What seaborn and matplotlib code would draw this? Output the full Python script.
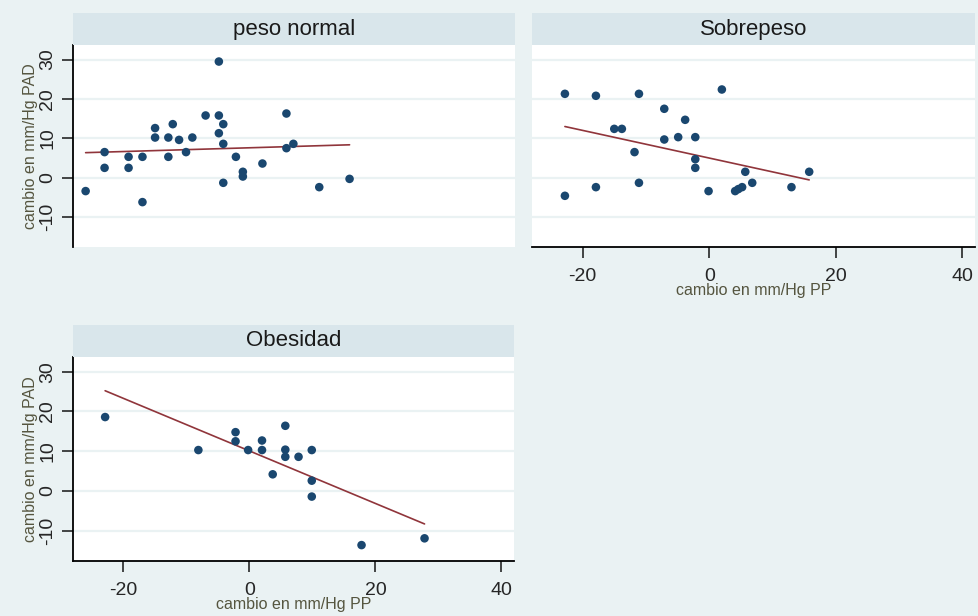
import numpy as np
import matplotlib.pyplot as plt
import pandas as pd
import seaborn as sns

# data
normal_pp = [-26.0, -23.0, -23.0, -19.2, -19.2, -17.0, -17.0, -15.0, -15.0, -12.9, -12.9,
             -12.2, -11.2, -10.1, -9.1, -7.0, -4.9, -4.9, -4.9, -4.2, -4.2, -4.2, -2.2,
             -1.1, -1.1, 2.0, 5.8, 5.8, 6.9, 11.0, 15.8]
normal_pad = [-3.4, 6.5, 2.5, 5.3, 2.5, 5.3, -6.2, 12.6, 10.2, 10.2, 5.3,
              13.6, 9.6, 6.5, 10.2, 15.8, 29.5, 15.8, 11.3, 13.6, 8.6, -1.3, 5.3,
              1.5, 0.3, 3.6, 16.3, 7.5, 8.6, -2.4, -0.3]

sobre_pp = [-22.8, -22.8, -17.9, -17.9, -15.0, -13.8, -11.8, -11.1, -11.1, -7.1, -7.1,
            -4.9, -3.8, -2.2, -2.2, -2.2, -0.1, 2.0, 4.1, 4.6, 5.2, 5.7, 6.8, 13.0, 15.8]
sobre_pad = [21.3, -4.6, 20.8, -2.4, 12.4, 12.4, 6.5, 21.3, -1.3, 17.5, 9.7,
             10.3, 14.7, 10.3, 4.7, 2.5, -3.4, 22.4, -3.4, -2.9, -2.4, 1.5, -1.3, -2.4, 1.5]

obes_pp = [-22.9, -8.1, -2.2, -2.2, -0.2, 2.0, 2.0, 3.7, 5.7, 5.7, 5.7, 7.8,
           9.9, 9.9, 9.9, 17.8, 27.8]
obes_pad = [18.6, 10.3, 14.8, 12.5, 10.3, 12.7, 10.3, 4.2, 16.4, 10.4, 8.6, 8.6,
            10.3, 2.6, -1.4, -13.6, -11.9]

groups = ['peso normal', 'Sobrepeso', 'Obesidad']
x_ticks = [-20, 0, 20, 40]
y_ticks = [-10, 0, 10, 20, 30]

df = pd.concat([
    pd.DataFrame({'pp': normal_pp, 'pad': normal_pad, 'grupo': groups[0]}),
    pd.DataFrame({'pp': sobre_pp, 'pad': sobre_pad, 'grupo': groups[1]}),
    pd.DataFrame({'pp': obes_pp, 'pad': obes_pad, 'grupo': groups[2]}),
])

bg = '#EAF2F3'
head = '#D9E6EB'
navy = '#1a476f'
maroon = '#90353b'
lab_col = '#55553f'

sns.set_style('white')
plt.rcParams['font.family'] = ['Liberation Sans', 'DejaVu Sans']
plt.rcParams['axes.unicode_minus'] = False   # stata shows plain hyphens

fig = plt.figure(figsize=(9.79, 6.16), dpi=100)
fig.patch.set_facecolor(bg)

W, H = 979, 616
# panel boxes in pixels: left, top, right, bottom, show x axis, show y axis
boxes = {
    'peso normal': (73, 45, 515, 247, False, True),
    'Sobrepeso': (532, 45, 975, 247, True, False),
    'Obesidad': (73, 357, 514, 561, True, True),
}

for g in groups:
    l, t, r, b, showx, showy = boxes[g]
    ax = fig.add_axes([l / W, 1 - b / H, (r - l) / W, (b - t) / H])
    ax.set_facecolor('white')
    sub = df[df['grupo'] == g]
    for yv in y_ticks:
        ax.axhline(yv, color=bg, lw=1.6, zorder=0)
    sns.scatterplot(data=sub, x='pp', y='pad', ax=ax, color=navy, s=38,
                    edgecolor='none', zorder=3)
    sns.regplot(data=sub, x='pp', y='pad', ax=ax, scatter=False, ci=None,
                line_kws={'color': maroon, 'lw': 1.2, 'zorder': 2})
    ax.set_xlim(-28, 42)
    ax.set_ylim(-17.6, 33.7)
    for s in ax.spines.values():
        s.set_visible(False)
    ax.set_xticks(x_ticks)
    ax.set_yticks(y_ticks)
    if showx:
        ax.spines['bottom'].set_visible(True)
        ax.spines['bottom'].set_color('black')
        ax.spines['bottom'].set_linewidth(1.3)
        ax.tick_params(axis='x', bottom=True, length=8, width=1.2, labelsize=14, pad=7)
        ax.set_xlabel('cambio en mm/Hg PP', fontsize=11.5, color=lab_col, labelpad=-1)
    else:
        ax.tick_params(axis='x', bottom=False, labelbottom=False)
        ax.set_xlabel('')
    if showy:
        ax.spines['left'].set_visible(True)
        ax.spines['left'].set_color('black')
        ax.spines['left'].set_linewidth(1.3)
        ax.tick_params(axis='y', left=True, length=8, width=1.2, labelsize=14, pad=4)
        plt.setp(ax.get_yticklabels(), rotation=90, va='center')
        ax.set_ylabel('cambio en mm/Hg PAD', fontsize=11.5, color=lab_col, labelpad=1)
    else:
        ax.tick_params(axis='y', left=False, labelleft=False)
        ax.set_ylabel('')

    # strip header
    hx = fig.add_axes([l / W, 1 - t / H, (r - l) / W, 32 / H])
    hx.set_facecolor(head)
    hx.set_xticks([])
    hx.set_yticks([])
    for s in hx.spines.values():
        s.set_visible(False)
    hx.text(0.5, 0.5, g, ha='center', va='center', fontsize=16, color='#1a1a1a')

plt.savefig('out.png', dpi=100, facecolor=bg)
